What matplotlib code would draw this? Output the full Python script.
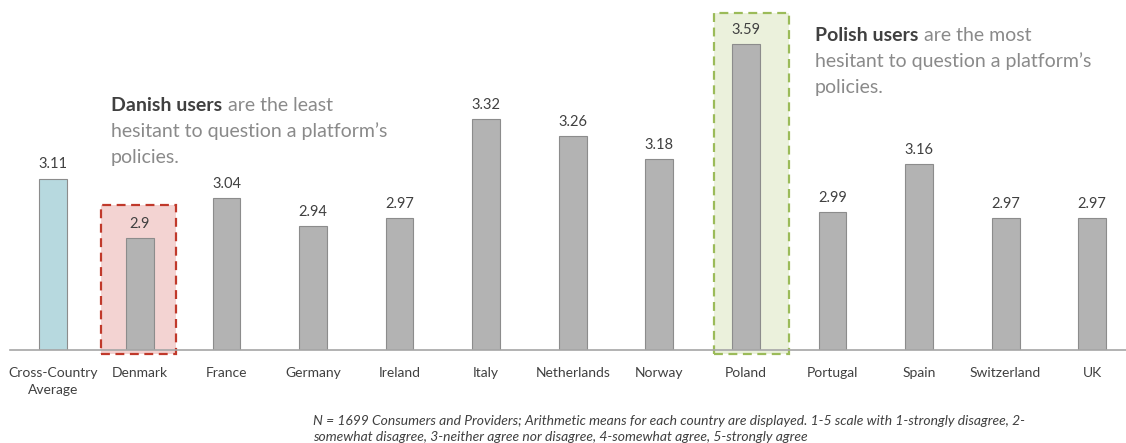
import matplotlib.pyplot as plt
from matplotlib.patches import Rectangle

plt.rcParams['font.family'] = ['Lato', 'DejaVu Sans']

# Data
countries = ["Cross-Country\nAverage", "Denmark", "France", "Germany", "Ireland", "Italy",
             "Netherlands", "Norway", "Poland", "Portugal", "Spain", "Switzerland", "UK"]
means = [3.11, 2.9, 3.04, 2.94, 2.97, 3.32, 3.26, 3.18, 3.59, 2.99, 3.16, 2.97, 2.97]
labels = ["3.11", "2.9", "3.04", "2.94", "2.97", "3.32", "3.26", "3.18", "3.59",
          "2.99", "3.16", "2.97", "2.97"]

dark = "#404040"
grey_txt = "#8a8a8a"

fig = plt.figure(figsize=(11.26, 4.43), dpi=100)
ax = fig.add_axes([10 / 1126, 93 / 443, 1116 / 1126, 350 / 443])

x = list(range(len(countries)))
colors = ["#b7d9df"] + ["#b3b3b3"] * (len(countries) - 1)

# highlight boxes behind bars
ax.add_patch(Rectangle((0.555, 2.486), 0.865, 3.015 - 2.486, facecolor="#f3d3d2",
                       edgecolor="#c0392b", linestyle=(0, (4, 2.5)), linewidth=1.6,
                       zorder=1, clip_on=False))
ax.add_patch(Rectangle((7.63, 2.486), 0.865, 3.70 - 2.486, facecolor="#ebf1dc",
                       edgecolor="#9bbb59", linestyle=(0, (4, 2.5)), linewidth=1.6,
                       zorder=1, clip_on=False))

ax.bar(x, [m - 2.5 for m in means], bottom=2.5, width=0.32, color=colors,
       edgecolor="#8c8c8c", linewidth=0.8, zorder=2)

for xi, m, lab in zip(x, means, labels):
    ax.text(xi, m + 0.025, lab, ha="center", va="bottom", fontsize=10.5, color=dark, zorder=3)

ax.set_xlim(-0.5, 12.39)
ax.set_ylim(2.5, 3.745)
ax.set_yticks([])
ax.set_xticks(x)
ax.set_xticklabels(countries, fontsize=10, color=dark, linespacing=1.55)
ax.tick_params(axis="x", length=0, pad=12)
for s in ["top", "right", "left"]:
    ax.spines[s].set_visible(False)
ax.spines["bottom"].set_color("#a6a6a6")
ax.spines["bottom"].set_linewidth(1.2)


def callout(px, py, bold, rest, lines):
    t1 = fig.text(px / 1126, 1 - py / 443, bold, fontsize=14, fontweight="bold",
                  color=dark, va="baseline")
    ax.annotate(rest, xy=(1, 0), xycoords=t1, xytext=(4, 0), textcoords="offset points",
                fontsize=14, color=grey_txt, va="bottom")
    for i, ln in enumerate(lines):
        fig.text(px / 1126, 1 - (py + 26 * (i + 1)) / 443, ln, fontsize=14,
                 color=grey_txt, va="baseline")


callout(111, 111, "Danish users", "are the least",
        ["hesitant to question a platform\u2019s", "policies."])
callout(815, 41, "Polish users", "are the most",
        ["hesitant to question a platform\u2019s", "policies."])

fig.text(313 / 1126, 1 - 425 / 443,
         "N = 1699 Consumers and Providers; Arithmetic means for each country are displayed. "
         "1-5 scale with 1-strongly disagree, 2-", fontsize=10, style="italic", color=dark,
         va="baseline")
fig.text(313 / 1126, 1 - 441 / 443,
         "somewhat disagree, 3-neither agree nor disagree, 4-somewhat agree, 5-strongly agree",
         fontsize=10, style="italic", color=dark, va="baseline")

fig.savefig("out.png", dpi=100)
